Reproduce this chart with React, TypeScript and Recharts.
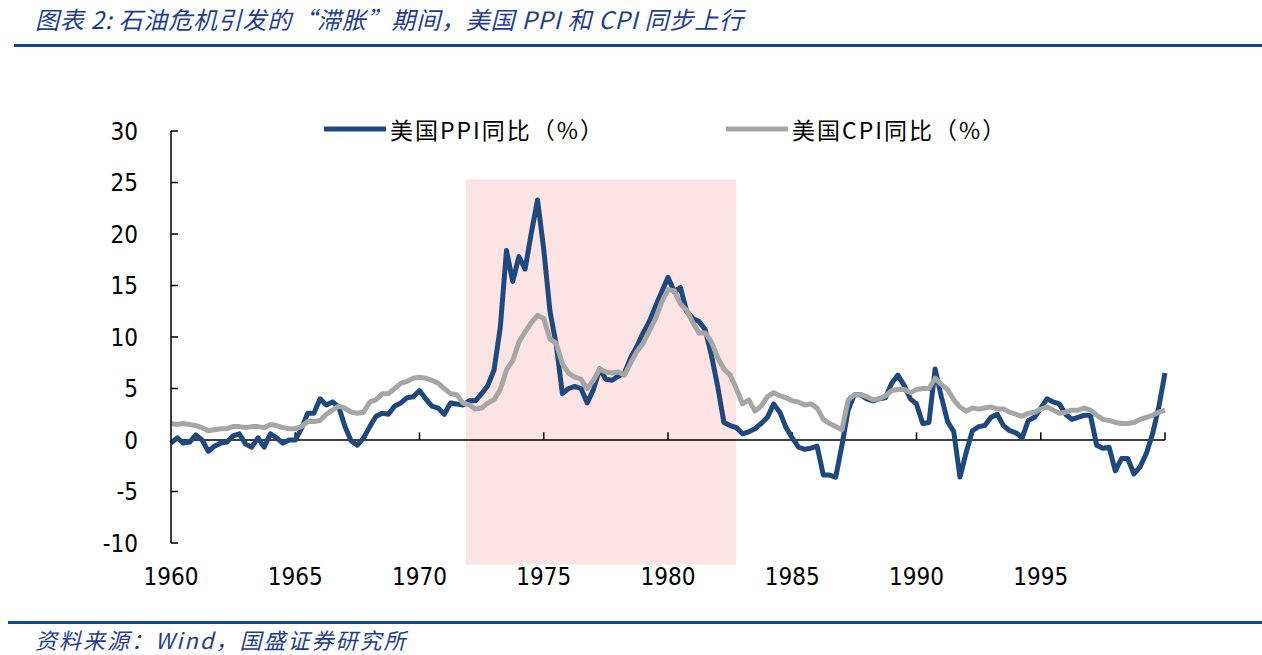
import React from 'react';
import { LineChart, Line, XAxis, YAxis, ReferenceArea, ReferenceLine } from 'recharts';

// quarterly readings, first point = 1960 Q1, last = 2000 Q1
const START_YEAR = 1960;

const ppi = [
  -0.3, 0.2, -0.3, -0.2,
  0.5, 0.0, -1.1, -0.6,
  -0.3, -0.2, 0.4, 0.6,
  -0.4, -0.7, 0.2, -0.7,
  0.6, 0.2, -0.3, 0.0,
  0.0, 1.1, 2.6, 2.6,
  4.0, 3.4, 3.7, 3.2,
  1.3, -0.1, -0.5, 0.2,
  1.3, 2.3, 2.6, 2.5,
  3.3, 3.6, 4.1, 4.2,
  4.8, 4.0, 3.3, 3.1,
  2.5, 3.6, 3.5, 3.4,
  3.8, 3.8, 4.5, 5.3,
  6.8, 10.9, 18.4, 15.4,
  17.8, 16.6, 20.1, 23.3,
  18.5, 12.5, 9.3, 4.5,
  5.0, 5.2, 5.0, 3.6,
  4.9, 6.9, 5.9, 5.8,
  6.2, 6.5, 8.0, 9.1,
  10.4, 11.5, 13.0, 14.4,
  15.8, 14.4, 14.8, 12.5,
  11.8, 11.5, 10.7, 8.2,
  5.2, 1.7, 1.4, 1.2,
  0.6, 0.8, 1.1, 1.6,
  2.2, 3.5, 2.7, 1.2,
  0.2, -0.7, -0.9, -0.8,
  -0.6, -3.4, -3.4, -3.6,
  -0.5, 2.9, 4.4, 4.4,
  4.0, 3.8, 4.0, 4.1,
  5.5, 6.3, 5.3, 4.0,
  3.5, 1.6, 1.7, 6.9,
  4.2, 1.8, 0.8, -3.6,
  -1.2, 0.9, 1.3, 1.4,
  2.2, 2.5, 1.4, 0.9,
  0.7, 0.2, 1.9, 2.2,
  3.1, 4.0, 3.7, 3.5,
  2.5, 2.0, 2.2, 2.4,
  2.4, -0.5, -0.8, -0.7,
  -3.0, -1.8, -1.8, -3.3,
  -2.6, -1.3, 0.6, 3.2,
  6.5,
];

const cpi = [
  1.6, 1.5, 1.6, 1.5,
  1.4, 1.2, 0.9, 1.0,
  1.1, 1.1, 1.3, 1.3,
  1.2, 1.3, 1.3, 1.2,
  1.5, 1.4, 1.2, 1.1,
  1.1, 1.3, 1.8, 1.8,
  1.9, 2.5, 2.9, 3.3,
  3.1, 2.7, 2.6, 2.7,
  3.7, 3.9, 4.5, 4.5,
  5.0, 5.5, 5.7, 6.0,
  6.1, 6.0, 5.8, 5.5,
  5.0, 4.5, 4.4, 3.6,
  3.4, 3.0, 3.1, 3.6,
  3.9, 4.9, 6.8, 7.7,
  9.5, 10.5, 11.4, 12.1,
  11.8, 9.8, 9.4, 7.4,
  6.5, 6.1, 5.9, 5.0,
  5.8, 6.9, 6.6, 6.5,
  6.6, 6.3, 7.5, 8.6,
  9.4, 10.6, 11.8, 13.4,
  14.6, 14.5, 13.2, 12.6,
  11.4, 10.4, 10.4, 9.5,
  8.0, 6.9, 6.3, 5.0,
  3.5, 3.9, 2.8, 3.3,
  4.2, 4.6, 4.3, 4.1,
  3.8, 3.7, 3.4, 3.5,
  3.1, 2.0, 1.6, 1.3,
  1.0, 3.9, 4.4, 4.4,
  4.2, 3.9, 4.0, 4.3,
  4.8, 4.9, 4.9, 4.6,
  4.9, 5.0, 5.0, 6.0,
  5.4, 4.9, 3.9, 3.2,
  2.8, 3.1, 3.0, 3.1,
  3.2, 3.0, 3.0, 2.7,
  2.5, 2.3, 2.6, 2.7,
  3.0, 3.2, 2.9, 2.6,
  2.7, 2.9, 2.9, 3.1,
  2.9, 2.4, 2.0, 1.9,
  1.7, 1.6, 1.6, 1.7,
  2.0, 2.2, 2.4, 2.7,
  2.9,
];

const xTicks = [1960, 1965, 1970, 1975, 1980, 1985, 1990, 1995];
const zeroTicks = [1965, 1970, 1975, 1980, 1985, 1990, 1995, 2000];
const yTicks = [-10, -5, 0, 5, 10, 15, 20, 25, 30];

// shaded "stagflation" window
const shadeYears = [1971.87, 1982.74];
const shadeValues = [-12.1, 25.3];

const BLUE = '#1f3d8f';
const PPI_COLOR = '#1f497d';
const CPI_COLOR = '#a6a6a6';
const NUM_FONT = "'Liberation Sans Narrow', 'Arial Narrow', 'DejaVu Sans Condensed', sans-serif";
const CJK_FONT = "'Noto Sans CJK SC', 'Liberation Sans Narrow', sans-serif";

const data = ppi.map((v, i) => ({ t: START_YEAR + i / 4, ppi: v, cpi: cpi[i] }));

const LegendItem = ({ color, label, left }: { color: string; label: string; left: number }) => (
  <div style={{ position: 'absolute', left, top: 112, display: 'flex', alignItems: 'center' }}>
    <svg width={62} height={10}>
      <line x1={1} y1={5} x2={61} y2={5} stroke={color} strokeWidth={5} strokeLinecap="round" />
    </svg>
    <span style={{ marginLeft: 4, fontSize: 23, fontFamily: CJK_FONT, color: '#000', letterSpacing: 2 }}>{label}</span>
  </div>
);

export default function App() {
  return (
    <div style={{ position: 'absolute', left: 0, top: 0, width: 1262, height: 655, background: '#fff', overflow: 'hidden' }}>
      <div style={{ position: 'absolute', left: 35, top: 1, fontSize: 24, fontStyle: 'italic', color: BLUE, fontFamily: CJK_FONT, whiteSpace: 'nowrap', letterSpacing: 0.8 }}>
        图表 2: 石油危机引发的“滞胀”期间，美国 PPI 和 CPI 同步上行
      </div>
      <div style={{ position: 'absolute', left: 14, top: 44, width: 1248, height: 3, background: '#0b4a9c' }} />

      <LineChart
        width={1262}
        height={655}
        data={data}
        margin={{ top: 131, right: 97, bottom: 72, left: 71 }}
        style={{ position: 'absolute', left: 0, top: 0 }}
      >
        <XAxis
          dataKey="t"
          type="number"
          domain={[1960, 2000]}
          ticks={xTicks}
          interval={0}
          axisLine={false}
          tickLine={false}
          tickSize={0}
          tickMargin={25}
          height={40}
          tick={{ fontSize: 24, fill: '#000', fontFamily: NUM_FONT }}
        />
        <YAxis
          type="number"
          domain={[-10, 30]}
          ticks={yTicks}
          interval={0}
          width={100}
          axisLine={{ stroke: '#000', strokeWidth: 1.5 }}
          tickLine={false}
          tickSize={0}
          tickMargin={33}
          tick={{ fontSize: 24, fill: '#000', fontFamily: NUM_FONT }}
        />
        <ReferenceLine y={0} stroke="#000" strokeWidth={1.5} />
        {zeroTicks.map((yr) => (
          <ReferenceLine key={`zt-${yr}`} segment={[{ x: yr, y: 0 }, { x: yr, y: 0.75 }]} stroke="#000" strokeWidth={1.5} />
        ))}
        {yTicks.map((v) => (
          <ReferenceLine key={`yt-${v}`} segment={[{ x: 1960, y: v }, { x: 1960.28, y: v }]} stroke="#000" strokeWidth={1.5} />
        ))}
        <Line type="linear" dataKey="ppi" stroke={PPI_COLOR} strokeWidth={5} dot={false} strokeLinejoin="round" isAnimationActive={false} />
        <Line type="linear" dataKey="cpi" stroke={CPI_COLOR} strokeWidth={5} dot={false} strokeLinejoin="round" isAnimationActive={false} />
        <ReferenceArea
          x1={shadeYears[0]}
          x2={shadeYears[1]}
          y1={shadeValues[0]}
          y2={shadeValues[1]}
          ifOverflow="visible"
          fill="#f46969"
          fillOpacity={0.18}
          stroke="none"
        />
      </LineChart>

      <LegendItem color={PPI_COLOR} label="美国PPI同比（%）" left={324} />
      <LegendItem color={CPI_COLOR} label="美国CPI同比（%）" left={726} />

      <div style={{ position: 'absolute', left: 8, top: 621, width: 1254, height: 3, background: '#0b4a9c' }} />
      <div style={{ position: 'absolute', left: 35, top: 623, fontSize: 22, fontStyle: 'italic', color: BLUE, fontFamily: CJK_FONT, whiteSpace: 'nowrap', letterSpacing: 2 }}>
        资料来源：Wind，国盛证券研究所
      </div>
    </div>
  );
}
